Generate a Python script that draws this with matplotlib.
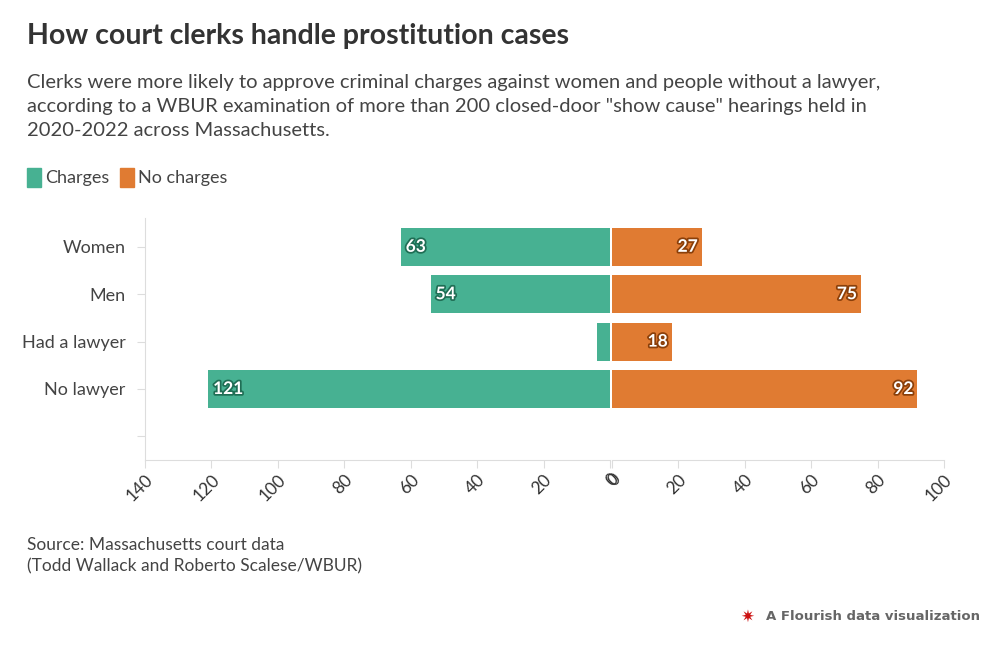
import matplotlib
matplotlib.use("Agg")
import matplotlib.pyplot as plt
import matplotlib.patheffects as pe

plt.rcParams['font.family'] = ['Lato', 'DejaVu Sans']

categories = ["Women", "Men", "Had a lawyer", "No lawyer", ""]
charges = [63, 54, 4, 121, None]
no_charges = [27, 75, 18, 92, None]
left_ticks = [140, 120, 100, 80, 60, 40, 20, 0]
right_ticks = [0, 20, 40, 60, 80, 100]

GREEN = "#47b192"
ORANGE = "#e07b32"
GREY = "#dddddd"
TXT = "#333333"

fig = plt.figure(figsize=(9.97, 6.48), dpi=100)
axL = fig.add_axes([0.1454, 0.290, 0.4664, 0.373])
axR = fig.add_axes([0.6138, 0.290, 0.3330, 0.373])

ys = list(range(len(categories)))
for ax in (axL, axR):
    ax.set_ylim(len(categories) - 0.5, -0.6)
    for s in ("top", "right"):
        ax.spines[s].set_visible(False)
    ax.spines["bottom"].set_color(GREY)
    ax.tick_params(axis="x", colors=GREY, labelcolor=TXT, labelsize=12.5, length=6, pad=2)

axL.set_xlim(140, 0)
axR.set_xlim(0, 100)
axL.set_xticks(left_ticks)
axR.set_xticks(right_ticks)
for lab in axL.get_xticklabels() + axR.get_xticklabels():
    lab.set_rotation(45)
    lab.set_ha("right")
    lab.set_va("top")
    lab.set_rotation_mode("anchor")

axL.spines["left"].set_color(GREY)
axL.set_yticks(ys)
axL.set_yticklabels(categories, fontsize=13, color="#444444")
axL.tick_params(axis="y", colors=GREY, labelcolor="#444444", length=6, pad=8)
axR.spines["left"].set_visible(False)
axR.set_yticks([])

for i, (c, n) in enumerate(zip(charges, no_charges)):
    if c is not None:
        axL.barh(i, c, height=0.8, color=GREEN)
        if c >= 10:
            axL.text(c - 1.5, i, str(c), ha="left", va="center", color="white",
                     fontsize=12.5, fontweight="bold",
                     path_effects=[pe.withStroke(linewidth=2.5, foreground="#1f6e55")])
    if n is not None:
        axR.barh(i, n, height=0.8, color=ORANGE)
        if n >= 10:
            axR.text(n - 1.2, i, str(n), ha="right", va="center", color="white",
                     fontsize=12.5, fontweight="bold",
                     path_effects=[pe.withStroke(linewidth=2.5, foreground="#8a3f0a")])

fig.text(0.027, 0.945, "How court clerks handle prostitution cases", fontsize=20.5,
         fontweight="bold", color="#333333", va="center")
fig.text(0.027, 0.835, "Clerks were more likely to approve criminal charges against women and people without a lawyer,\n"
         "according to a WBUR examination of more than 200 closed-door \"show cause\" hearings held in\n"
         "2020-2022 across Massachusetts.", fontsize=14.5, color="#444444", va="center", linespacing=1.5)

fig.patches.append(plt.Rectangle((0.027, 0.712), 0.014, 0.028, transform=fig.transFigure,
                                 color=GREEN, figure=fig))
fig.text(0.045, 0.726, "Charges", fontsize=13, color="#444444", va="center")
fig.patches.append(plt.Rectangle((0.12, 0.712), 0.014, 0.028, transform=fig.transFigure,
                                 color=ORANGE, figure=fig))
fig.text(0.138, 0.726, "No charges", fontsize=13, color="#444444", va="center")

fig.text(0.027, 0.142, "Source: Massachusetts court data\n(Todd Wallack and Roberto Scalese/WBUR)",
         fontsize=12.5, color="#444444", va="center", linespacing=1.4)
fig.text(0.743, 0.048, "✷", fontsize=12, color="#cc1111", va="center")
fig.text(0.768, 0.048, "A Flourish data visualization", fontsize=9.5, color="#666666",
         fontweight="bold", va="center", family=["DejaVu Sans"])

fig.savefig("out.png", dpi=100)
